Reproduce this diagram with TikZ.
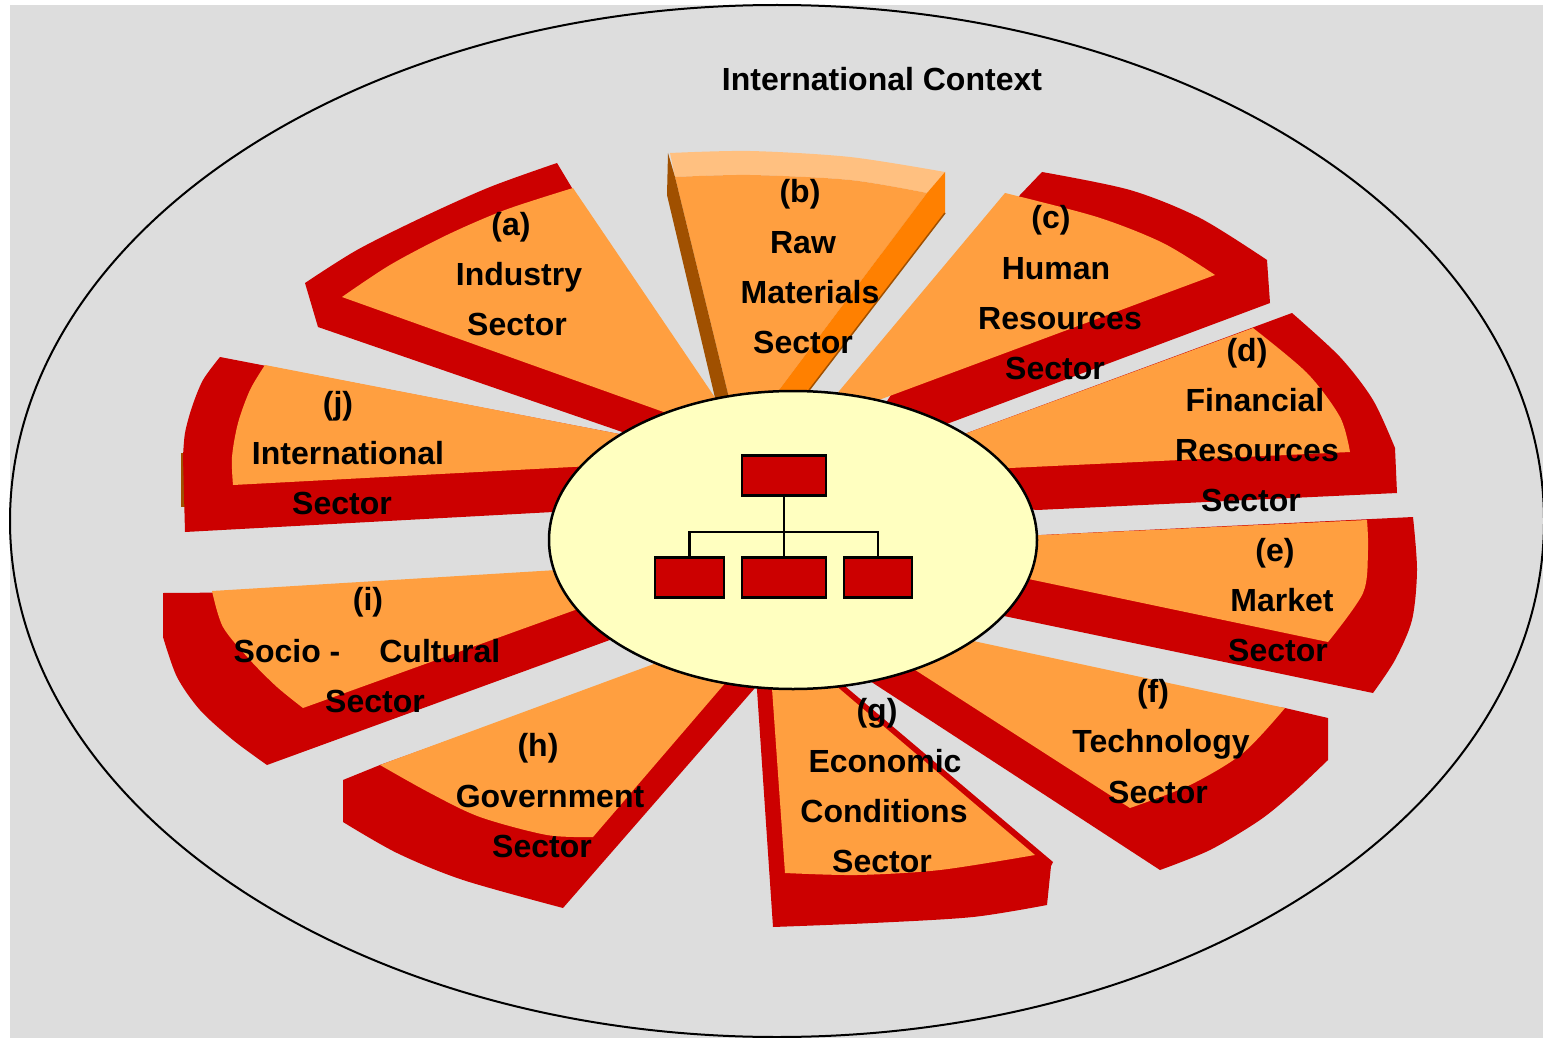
\documentclass[tikz,border=0pt]{standalone}
\usepackage{fontspec}
\setmainfont{Liberation Sans}
\usetikzlibrary{shapes.geometric}
\definecolor{bgGray}{HTML}{DDDDDD}
\definecolor{sideRed}{HTML}{CC0000}
\definecolor{topOrange}{HTML}{FF9F40}
\definecolor{brightOrange}{HTML}{FF8000}
\definecolor{lightOrange}{HTML}{FFC080}
\definecolor{edgeBrown}{HTML}{A05000}
\definecolor{hubYellow}{HTML}{FFFFC0}
\begin{document}
\begin{tikzpicture}[x=1pt,y=-1pt,
  side/.style={fill=sideRed},
  face/.style={fill=topOrange},
  lbl/.style={anchor=base,font=\bfseries\fontsize{32}{38}\selectfont,inner sep=0pt},
  orgbox/.style={draw=black,line width=2.5pt,fill=sideRed,minimum height=40pt,inner sep=0pt},
  orgline/.style={line width=2.5pt}
]
\useasboundingbox (0,0) rectangle (1543,1038);
% background and outer context
\fill[bgGray] (10,5) rectangle (1543,1038);
\draw[line width=2pt] (777,521) ellipse [x radius=767, y radius=516];

% (a) Industry
\fill[side] (572,188) -- (557,163) -- plot[smooth] coordinates {(557,163) (490,187) (423,217) (357,250) (305,283)} -- (318,327) -- (660,445) -- (712,405) -- cycle;
\fill[face] (573,188) -- plot[smooth] coordinates {(573,188) (505,210) (447,235) (390,265) (342,297)} -- (700,425) -- (718,402) -- cycle;

% (b) Raw Materials (lifted slice)
\fill[lightOrange] (670,153) -- plot[smooth] coordinates {(670,153) (750,151) (850,157) (945,172)} -- (927,193) -- plot[smooth] coordinates {(927,193) (850,180) (750,175) (675,177)} -- cycle;
\fill[face] (675,177) -- plot[smooth] coordinates {(675,177) (750,175) (850,180) (927,193)} -- (770,402) -- (730,402) -- cycle;
\fill[brightOrange] (945,172) -- (945,213) -- (800,402) -- (770,402) -- (927,193) -- cycle;
\draw[edgeBrown,line width=1.5pt] (945,213) -- (800,402);
\fill[edgeBrown] (668,153) -- (667,195) -- (716,402) -- (730,402) -- (675,177) -- cycle;

% (c) Human Resources
\fill[side] (1020,195) -- (1042,172) -- plot[smooth] coordinates {(1042,172) (1130,190) (1200,218) (1267,260)} -- (1270,303) -- (920,434) -- (880,412) -- cycle;
\fill[face] (1005,193) -- plot[smooth] coordinates {(1005,193) (1097,217) (1163,243) (1215,275)} -- (860,407) -- (830,402) -- cycle;

% (d) Financial Resources
\fill[side] (940,443) -- (1292,313) -- plot[smooth] coordinates {(1292,313) (1340,357) (1373,400) (1395,448)} -- (1397,493) -- (1037,510) -- (990,505) -- cycle;
\fill[face] (940,443) -- (1253,328) -- plot[smooth] coordinates {(1253,328) (1307,373) (1340,417) (1350,452)} -- (1010,468) -- (975,470) -- cycle;

% (e) Market
\fill[side] (1000,537) -- (1413,517) -- plot[smooth] coordinates {(1413,517) (1417,570) (1412,620) (1395,660) (1373,693)} -- (980,611) -- cycle;
\fill[face] (1000,537) -- (1367,520) -- plot[smooth] coordinates {(1367,520) (1368,550) (1363,593) (1328,642)} -- (1000,573) -- cycle;

% (f) Technology
\fill[side] (850,668) -- (900,650) -- (1285,708) -- (1328,718) -- (1328,760) -- plot[smooth] coordinates {(1328,760) (1293,793) (1260,820) (1210,850) (1160,870)} -- cycle;
\fill[face] (950,636) -- (1285,708) -- plot[smooth] coordinates {(1285,708) (1243,753) (1190,785) (1130,808)} -- (895,657) -- cycle;

% (g) Economic Conditions
\fill[side] (755,660) -- (773,927) -- plot[smooth] coordinates {(773,927) (873,923) (973,917) (1047,905)} -- (1051,866) -- (1053,862) -- (820,665) -- cycle;
\fill[face] (770,660) -- (785,873) -- plot[smooth] coordinates {(785,873) (857,875) (940,870) (1035,855)} -- (815,668) -- cycle;

% (h) Government
\fill[side] (380,765) -- (343,780) -- (343,822) -- plot[smooth] coordinates {(343,822) (397,853) (463,880) (563,908)} -- (775,665) -- (700,650) -- cycle;
\fill[face] (380,765) -- (700,647) -- (745,660) -- (593,837) -- plot[smooth] coordinates {(593,837) (547,835) (480,817) (430,793) (380,765)} -- cycle;

% (i) Socio-Cultural
\fill[side] (163,593) -- (163,637) -- plot[smooth] coordinates {(163,637) (177,677) (200,710) (233,740) (267,765)} -- (640,629) -- (600,590) -- cycle;
\fill[face] (212,591) -- (590,568) -- (600,601) -- (303,708) -- plot[smooth] coordinates {(303,708) (277,687) (250,660) (223,627) (212,591)} -- cycle;

% (j) International
\fill[edgeBrown] (181,453) rectangle (186,507);
\fill[side] (220,357) -- plot[smooth] coordinates {(220,357) (203,380) (192,407) (185,433) (183,457)} -- (185,532) -- (590,510) -- (650,440) -- cycle;
\fill[face] (265,365) -- (650,440) -- (610,465) -- (233,485) -- plot[smooth] coordinates {(233,485) (232,457) (238,423) (250,390) (265,365)} -- cycle;

% central organisation
\node[draw=black,line width=2.5pt,fill=hubYellow,ellipse,minimum width=488pt,minimum height=298pt,inner sep=0pt] (hub) at (793,540) {};
\node[orgbox,minimum width=84pt] (boss) at (784,475.5) {};
\node[orgbox,minimum width=69pt] (unitl) at (689.5,577.5) {};
\node[orgbox,minimum width=84pt] (unitm) at (784,577.5) {};
\node[orgbox,minimum width=68pt] (unitr) at (878,577.5) {};
\coordinate (bar) at (784,532);
\draw[orgline] (boss.south) -- (unitm.north);
\draw[orgline] (unitl.north) |- (bar) -| (unitr.north);

% labels
\node[lbl] (title) at (882,91) {International Context};

\node[lbl] (a1) at (511,235) {(a)};
\node[lbl] (a2) at (519,285) {Industry};
\node[lbl] (a3) at (517,335) {Sector};

\node[lbl] (b1) at (800,203) {(b)};
\node[lbl] (b2) at (803,253) {Raw};
\node[lbl] (b3) at (810,303) {Materials};
\node[lbl] (b4) at (803,353) {Sector};

\node[lbl] (c1) at (1051,229) {(c)};
\node[lbl] (c2) at (1056,279) {Human};
\node[lbl] (c3) at (1060,329) {Resources};
\node[lbl] (c4) at (1055,379) {Sector};

\node[lbl] (d1) at (1247,361) {(d)};
\node[lbl] (d2) at (1255,411) {Financial};
\node[lbl] (d3) at (1257,461) {Resources};
\node[lbl] (d4) at (1251,511) {Sector};

\node[lbl] (e1) at (1275,561) {(e)};
\node[lbl] (e2) at (1282,611) {Market};
\node[lbl] (e3) at (1278,661) {Sector};

\node[lbl] (f1) at (1153,702) {(f)};
\node[lbl] (f2) at (1161,752) {Technology};
\node[lbl] (f3) at (1158,803) {Sector};

\node[lbl] (g1) at (877,721) {(g)};
\node[lbl] (g2) at (885,772) {Economic};
\node[lbl] (g3) at (884,822) {Conditions};
\node[lbl] (g4) at (882,872) {Sector};

\node[lbl] (h1) at (538,756) {(h)};
\node[lbl] (h2) at (550,807) {Government};
\node[lbl] (h3) at (542,857) {Sector};

\node[lbl] (i1) at (368,610) {(i)};
\node[lbl] (i2) at (367,662) {Socio -\hspace{39pt}Cultural};
\node[lbl] (i3) at (375,712) {Sector};

\node[lbl] (j1) at (338,414) {(j)};
\node[lbl] (j2) at (348,464) {International};
\node[lbl] (j3) at (342,514) {Sector};
\end{tikzpicture}
\end{document}
